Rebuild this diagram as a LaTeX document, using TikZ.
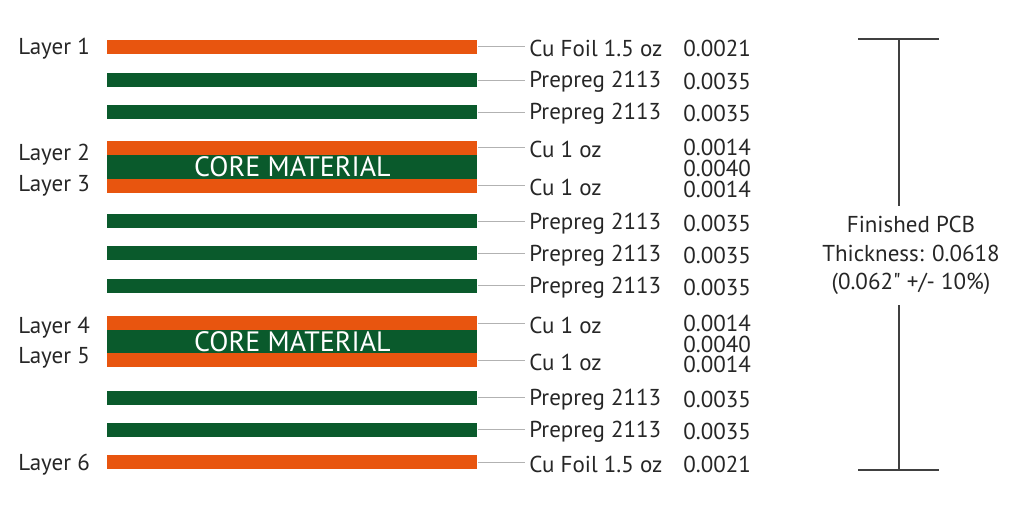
\documentclass[tikz,border=0pt]{standalone}
\usepackage{fontspec}
\setmainfont{PT Sans}
\definecolor{cuorange}{HTML}{E8550F}
\definecolor{coregreen}{HTML}{0A5A2C}
\tikzset{% 
    bar/.style={inner sep=0pt,anchor=west,minimum width=185pt,minimum height=7pt},
    cu/.style={bar,fill=cuorange},
    pp/.style={bar,fill=coregreen},
    lbl/.style={anchor=west,inner sep=2pt,yshift=-0.8pt,font=\fontsize{11.5}{14}\selectfont,text=black!85}
}

\begin{document}
\begin{tikzpicture}[
            x=0.5pt,y=-0.5pt,
            lead/.style={draw=black!30,line width=0.5pt},
            dim/.style={draw=black!75,line width=0.7pt},
            core/.style={font=\fontsize{14}{16}\selectfont,text=white}
            ]
            \useasboundingbox (0,0) rectangle (1024,524);
            % layer stack
            \node[cu] (b1) at (107,47){};
            \node[pp] (b2) at (107,80.5){};
            \node[pp] (b3) at (107,112.5){};
            \node[cu] (b4) at (107,148){};
            \node[pp,minimum height=12pt] (c1) at (107,167){};
            \node[cu] (b5) at (107,186){};
            \node[pp] (b6) at (107,221.5){};
            \node[pp] (b7) at (107,253.5){};
            \node[pp] (b8) at (107,285.5){};
            \node[cu] (b9) at (107,323){};
            \node[pp,minimum height=11.5pt] (c2) at (107,341.5){};
            \node[cu] (b10) at (107,360){};
            \node[pp] (b11) at (107,397.5){};
            \node[pp] (b12) at (107,429.5){};
            \node[cu] (b13) at (107,462){};
            \node[core] at (c1.center){CORE MATERIAL};
            \node[core] at (c2.center){CORE MATERIAL};
            % layer names
            \node[lbl] (l1) at (14,47){Layer 1};
            \node[lbl] (l2) at (14,153){Layer 2};
            \node[lbl] (l3) at (14,184){Layer 3};
            \node[lbl] (l4) at (14,326){Layer 4};
            \node[lbl] (l5) at (14,356){Layer 5};
            \node[lbl] (l6) at (14,463){Layer 6};
            % materials
            \node[lbl] (m1) at (525,47){Cu Foil 1.5 oz};
            \node[lbl] (m2) at (525,80){Prepreg 2113};
            \node[lbl] (m3) at (525,112){Prepreg 2113};
            \node[lbl] (m4) at (525,148){Cu 1 oz};
            \node[lbl] (m5) at (525,186){Cu 1 oz};
            \node[lbl] (m6) at (525,222){Prepreg 2113};
            \node[lbl] (m7) at (525,254){Prepreg 2113};
            \node[lbl] (m8) at (525,286){Prepreg 2113};
            \node[lbl] (m9) at (525,324){Cu 1 oz};
            \node[lbl] (m10) at (525,361){Cu 1 oz};
            \node[lbl] (m11) at (525,398){Prepreg 2113};
            \node[lbl] (m12) at (525,430){Prepreg 2113};
            \node[lbl] (m13) at (525,463){Cu Foil 1.5 oz};
            \draw[lead] (b1) -- (b1 -| m1.west);
            \draw[lead] (b2) -- (b2 -| m2.west);
            \draw[lead] (b3) -- (b3 -| m3.west);
            \draw[lead] (b4) -- (b4 -| m4.west);
            \draw[lead] (b5) -- (b5 -| m5.west);
            \draw[lead] (b6) -- (b6 -| m6.west);
            \draw[lead] (b7) -- (b7 -| m7.west);
            \draw[lead] (b8) -- (b8 -| m8.west);
            \draw[lead] (b9) -- (b9 -| m9.west);
            \draw[lead] (b10) -- (b10 -| m10.west);
            \draw[lead] (b11) -- (b11 -| m11.west);
            \draw[lead] (b12) -- (b12 -| m12.west);
            \draw[lead] (b13) -- (b13 -| m13.west);
            % thicknesses
            \node[lbl] (v1) at (679,47){0.0021};
            \node[lbl] (v2) at (679,80){0.0035};
            \node[lbl] (v3) at (679,112){0.0035};
            \node[lbl] (v4) at (679,146){0.0014};
            \node[lbl] (v5) at (679,167){0.0040};
            \node[lbl] (v6) at (679,188){0.0014};
            \node[lbl] (v7) at (679,222){0.0035};
            \node[lbl] (v8) at (679,254){0.0035};
            \node[lbl] (v9) at (679,286){0.0035};
            \node[lbl] (v10) at (679,322){0.0014};
            \node[lbl] (v11) at (679,343){0.0040};
            \node[lbl] (v12) at (679,363){0.0014};
            \node[lbl] (v13) at (679,398){0.0035};
            \node[lbl] (v14) at (679,430){0.0035};
            \node[lbl] (v15) at (679,463){0.0021};
            % total thickness
            \node[lbl,anchor=center,align=center,inner sep=5pt,
                font=\fontsize{11.5}{14.25}\selectfont] (pcb) at (911,254)
                {Finished PCB\\Thickness: 0.0618\\(0.062\textquotedbl{} +/- 10\%)};
            \coordinate (top) at (899,39);
            \coordinate (bot) at (899,470);
            \coordinate (tl) at (858,39);
            \coordinate (tr) at (939,39);
            \coordinate (bl) at (858,470);
            \coordinate (br) at (939,470);
            \draw[dim] (tl) -- (tr);
            \draw[dim] (bl) -- (br);
            \draw[dim] (top) -- (top |- pcb.north);
            \draw[dim] (bot) -- (bot |- pcb.south);
        \end{tikzpicture}
\end{document}
